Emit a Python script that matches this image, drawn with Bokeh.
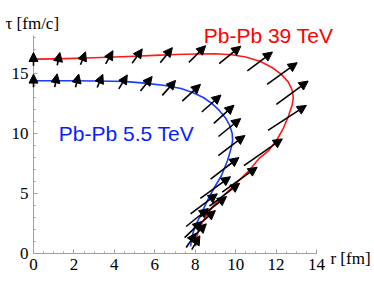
from bokeh.plotting import figure
from bokeh.models import Range1d, Arrow, NormalHead, ColumnDataSource, Label, FixedTicker
from bokeh.embed import file_html
from bokeh.resources import INLINE

# ---- data ----
red_r = [0, 1, 2, 3, 4, 5, 6, 7, 8, 9, 9.8, 10.5, 11.2, 11.8, 12.25, 12.6, 12.8, 12.85,
         12.8, 12.6, 12.35, 12.05, 11.65, 11.15, 10.6, 10.0, 9.45, 8.95, 8.65, 8.35, 8.15, 8.05, 8.02]
red_tau = [16.2, 16.22, 16.26, 16.31, 16.37, 16.44, 16.51, 16.58, 16.63, 16.64, 16.56, 16.38, 16.02,
           15.5, 14.95, 14.3, 13.6, 13.0, 12.4, 11.4, 10.4, 9.5, 8.6, 7.9, 6.8, 5.8, 4.9, 4.1, 3.4,
           2.6, 1.8, 1.2, 0.6]

blue_r = [0, 1, 2, 3, 4, 4.6, 5.5, 6.5, 7.3, 7.9, 8.4, 8.85, 9.2, 9.5, 9.7, 9.83, 9.85, 9.78,
          9.6, 9.3, 8.95, 8.6, 8.27, 8.0, 7.85, 7.77]
blue_tau = [14.4, 14.4, 14.4, 14.38, 14.35, 14.32, 14.2, 14.0, 13.75, 13.4, 13.0, 12.47, 11.9,
            11.3, 10.7, 10.0, 9.4, 8.8, 7.75, 6.5, 5.5, 4.4, 3.2, 2.3, 1.5, 0.6]

# flow arrows: centre (r, tau) and vector components (dr, dtau) in data units
red_arrow_r = [0.0, 1.24, 2.45, 3.75, 5.13, 6.57, 8.1, 9.72, 11.2, 12.3, 12.8, 12.55,
               11.36, 10.2, 9.45, 8.9, 8.45, 8.15, 8.03]
red_arrow_tau = [16.2, 16.22, 16.27, 16.35, 16.45, 16.53, 16.62, 16.55, 16.0, 15.0, 13.4, 11.3,
                 8.44, 6.15, 4.9, 3.9, 2.8, 1.8, 0.9]
red_arrow_dr = [0.0, 0.13, 0.25, 0.36, 0.5, 0.6, 0.83, 1.07, 1.24, 1.49, 1.57, 1.9,
                1.9, 1.73, 1.5, 1.3, 1.1, 0.8, 0.4]
red_arrow_dtau = [1.1, 1.06, 1.07, 1.1, 1.2, 1.25, 1.39, 1.45, 1.58, 1.8, 1.94, 2.08,
                  2.22, 2.08, 1.9, 1.7, 1.55, 1.35, 1.15]

blue_arrow_r = [0.0, 1.11, 2.16, 3.29, 4.43, 5.58, 6.7, 7.81, 8.8, 9.42, 9.7, 9.8,
                9.46, 9.0, 8.43, 8.1, 7.9, 7.8]
blue_arrow_tau = [14.4, 14.42, 14.4, 14.38, 14.3, 14.15, 13.8, 13.4, 12.5, 11.6, 10.5, 9.0,
                  7.1, 5.5, 4.14, 3.0, 2.0, 1.1]
blue_arrow_dr = [0.0, 0.12, 0.16, 0.28, 0.42, 0.58, 0.66, 0.9, 0.95, 1.0, 1.1, 1.32,
                 1.4, 1.49, 1.32, 1.1, 0.85, 0.5]
blue_arrow_dtau = [1.1, 1.1, 1.1, 1.1, 1.17, 1.2, 1.25, 1.39, 1.42, 1.52, 1.5, 1.67,
                   1.8, 1.8, 1.67, 1.5, 1.35, 1.2]

x_ticks = [0, 2, 4, 6, 8, 10, 12, 14]
y_ticks = [0, 5, 10, 15]
x_minor = [i * 0.5 for i in range(29)]
y_minor = list(range(19))

RED = "#ff1a1a"
BLUE = "#1a3cff"

p = figure(width=372, height=281, output_backend="svg", toolbar_location=None,
           x_range=Range1d(-1.6325, 16.77), y_range=Range1d(-2.333, 21.083),
           min_border_left=0, min_border_right=0, min_border_top=0, min_border_bottom=0)
p.outline_line_color = None
p.grid.grid_line_color = None
p.background_fill_color = "white"

for ax in (p.xaxis, p.yaxis):
    ax.fixed_location = 0
    ax.axis_line_color = "#a0a0a0"
    ax.major_tick_line_color = "#a0a0a0"
    ax.minor_tick_line_color = "#a0a0a0"
    ax.major_tick_in = 4
    ax.major_tick_out = 0
    ax.minor_tick_in = 2
    ax.minor_tick_out = 0
    ax.major_label_text_font = "Liberation Serif"
    ax.major_label_text_font_size = "17px"
    ax.major_label_text_color = "black"
    ax.major_label_standoff = 5

p.xaxis.bounds = (0, 14)
p.yaxis.bounds = (0, 18.15)
p.xaxis.ticker = FixedTicker(ticks=x_ticks, minor_ticks=x_minor)
p.yaxis.ticker = FixedTicker(ticks=y_ticks, minor_ticks=y_minor)

p.line(red_r, red_tau, line_color=RED, line_width=1.6, line_join="round")
p.line(blue_r, blue_tau, line_color=BLUE, line_width=1.6, line_join="round")


def add_arrows(rr, tt, dr, dt):
    src = ColumnDataSource(dict(
        x0=[r - 0.5 * a for r, a in zip(rr, dr)],
        y0=[t - 0.5 * b for t, b in zip(tt, dt)],
        x1=[r + 0.5 * a for r, a in zip(rr, dr)],
        y1=[t + 0.5 * b for t, b in zip(tt, dt)],
    ))
    p.add_layout(Arrow(source=src, x_start="x0", y_start="y0", x_end="x1", y_end="y1",
                       line_color="black", line_width=1.6,
                       end=NormalHead(size=9, fill_color="black", line_color="black", line_width=1)))


add_arrows(red_arrow_r, red_arrow_tau, red_arrow_dr, red_arrow_dtau)
add_arrows(blue_arrow_r, blue_arrow_tau, blue_arrow_dr, blue_arrow_dtau)

p.add_layout(Label(x=8.42, y=18.17, text="Pb-Pb 39 TeV", text_color="#ff0000",
                   text_font="Liberation Sans", text_font_size="21px", text_baseline="alphabetic"))
p.add_layout(Label(x=1.25, y=9.97, text="Pb-Pb 5.5 TeV", text_color="#0a1eff",
                   text_font="Liberation Sans", text_font_size="21px", text_baseline="alphabetic"))
p.add_layout(Label(x=-1.385, y=19.17, text="τ [fm/c]", text_color="black",
                   text_font="Liberation Serif", text_font_size="17px", text_baseline="alphabetic"))
p.add_layout(Label(x=14.69, y=-0.44, text="r [fm]", text_color="black",
                   text_font="Liberation Serif", text_font_size="17px", text_baseline="alphabetic"))

open("out.html", "w").write(file_html(p, INLINE))
